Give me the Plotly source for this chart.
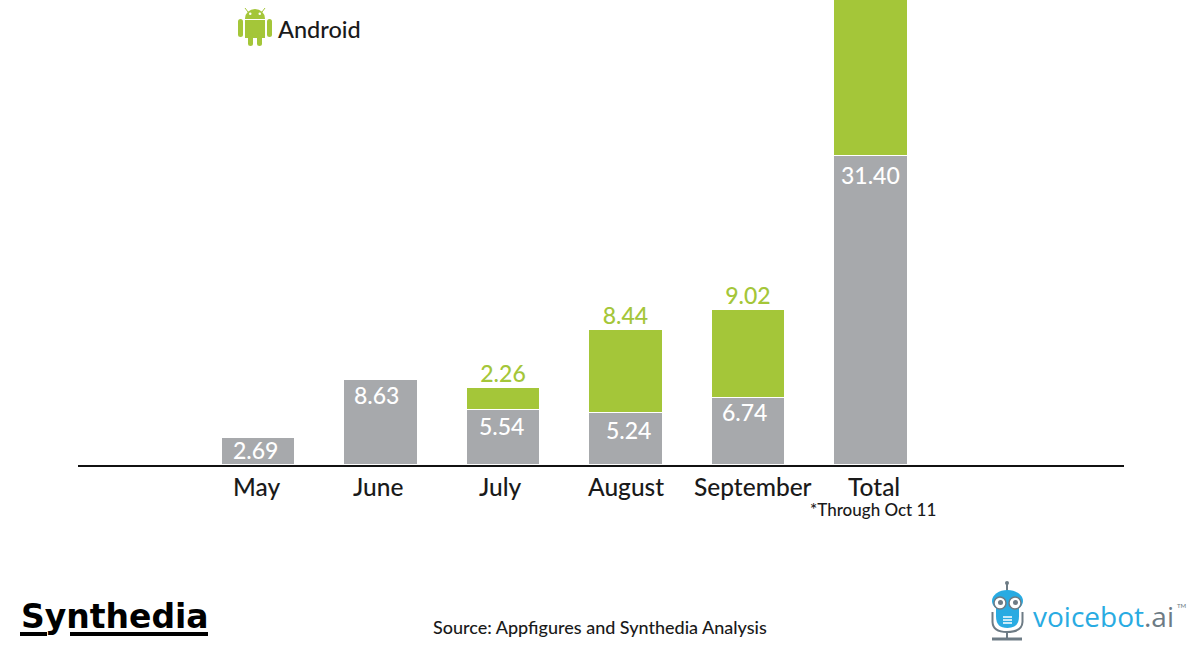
import plotly.graph_objects as go

months = ["May", "June", "July", "August", "September", "Total"]
ios_values = [2.69, 8.63, 5.54, 5.24, 6.74, 31.40]
android_values = [0, 0, 2.26, 8.44, 9.02, 19.72]
ios_labels = ["2.69", "8.63", "5.54", "5.24", "6.74", "31.40"]
android_labels = ["", "", "2.26", "8.44", "9.02", ""]
tick_nudge = [-2, -3, -3, 0, 5, 4]
ios_nudge = [-3, -4, -2, 3, -3, 0]
ios_drop = [-12, -16, -16, -17, -14, -19]

GREY = "#a7a9ac"
GREEN = "#a4c639"
BLUE = "#29abe2"
SLATE = "#6d7b85"
FONT = "Lato"

W, H = 1200, 650
L, R, BOTTOM = 78, 1124, 465

# logos are placed in screen pixels, so convert to paper coordinates
def px(x):
    return (x - L) / (R - L)

def py(y):
    return (BOTTOM - y) / BOTTOM

def rect(x0, y0, x1, y1, color):
    return dict(type="rect", xref="paper", yref="paper", x0=px(x0), x1=px(x1),
                y0=py(y1), y1=py(y0), fillcolor=color, line_width=0, layer="above")

def pill(x0, y0, x1, y1, color):
    r = (x1 - x0) / 2
    path = (f"M {px(x0)} {py(y0 + r)} Q {px(x0)} {py(y0)} {px(x0 + r)} {py(y0)} "
            f"Q {px(x1)} {py(y0)} {px(x1)} {py(y0 + r)} L {px(x1)} {py(y1 - r)} "
            f"Q {px(x1)} {py(y1)} {px(x0 + r)} {py(y1)} "
            f"Q {px(x0)} {py(y1)} {px(x0)} {py(y1 - r)} Z")
    return dict(type="path", xref="paper", yref="paper", path=path, fillcolor=color,
                line_width=0, layer="above")

def oval(x0, y0, x1, y1, color, line=None, width=0):
    return dict(type="circle", xref="paper", yref="paper", x0=px(x0), x1=px(x1),
                y0=py(y1), y1=py(y0), fillcolor=color, layer="above",
                line=dict(color=line or color, width=width))

def seg(x0, y0, x1, y1, color, width):
    return dict(type="line", xref="paper", yref="paper", x0=px(x0), x1=px(x1),
                y0=py(y0), y1=py(y1), layer="above", line=dict(color=color, width=width))

def text(x, y, s, size, color="#1a1a1a", family=FONT, anchor="center", weight=500):
    return dict(xref="paper", yref="paper", x=px(x), y=py(y), text=s, showarrow=False,
                xanchor=anchor, yanchor="middle",
                font=dict(size=size, color=color, family=family, weight=weight))

positions = list(range(len(months)))
stack_tops = [a + b for a, b in zip(ios_values, android_values)]

fig = go.Figure()
fig.add_bar(x=positions, y=ios_values, marker_color=GREY, width=0.6,
            marker_line=dict(color="white", width=1))
fig.add_bar(x=positions, y=android_values, marker_color=GREEN, width=0.6,
            marker_line=dict(color="white", width=1))
fig.add_scatter(x=positions, y=stack_tops, mode="text", text=android_labels,
                textposition="top center",
                textfont=dict(size=23, color=GREEN, family=FONT, weight=500))

notes = [
    text(276, 29, "Android", 23.5, anchor="left"),
    text(873, 509, "*Through Oct 11", 17),
    text(600, 627, "Source: Appfigures and Synthedia Analysis", 18),
    text(19, 616, "<b>Synthedia</b>", 33, color="#000000", family="DejaVu Sans", anchor="left"),
    text(1031, 616, f"voicebot<span style='color:{SLATE}'>.ai</span>", 28, color=BLUE,
         family="Open Sans", anchor="left", weight=400),
    text(1175, 605, "TM", 6, color=SLATE, anchor="left"),
]
for pos, month, nudge in zip(positions, months, tick_nudge):
    notes.append(dict(x=pos, y=0, xref="x", yref="paper", text=month, showarrow=False,
                      xshift=nudge, yshift=-21, yanchor="middle",
                      font=dict(size=24.5, color="#1a1a1a", family=FONT, weight=500)))
for pos, val, label, nudge, drop in zip(positions, ios_values, ios_labels, ios_nudge, ios_drop):
    notes.append(dict(x=pos, y=val, xref="x", yref="y", text=label, showarrow=False,
                      xshift=nudge, yshift=drop, yanchor="middle",
                      font=dict(size=23, color="white", family=FONT, weight=500)))

logos = [
    # android robot
    seg(248, 12, 245, 8, GREEN, 1), seg(262, 12, 265, 8, GREEN, 1),
    oval(245, 9, 265, 28, GREEN),
    rect(245, 19, 265, 38, "white"),
    rect(245, 20, 265, 38, GREEN),
    pill(238, 19, 243, 37, GREEN), pill(267, 19, 272, 37, GREEN),
    pill(248, 33, 253, 46, GREEN), pill(257, 33, 262, 46, GREEN),
    oval(249, 12.5, 251.5, 15, "white"), oval(258.5, 12.5, 261, 15, "white"),
    # synthedia underline
    rect(20, 632, 47, 636, "#000000"), rect(70, 632, 208, 636, "#000000"),
    # voicebot robot
    seg(992.5, 612, 992.5, 622, SLATE, 2), seg(1022.5, 612, 1022.5, 622, SLATE, 2),
    dict(type="path", xref="paper", yref="paper", layer="above",
         path=f"M {px(992.5)} {py(622)} Q {px(993)} {py(632)} {px(1007)} {py(632)} "
              f"Q {px(1022)} {py(632)} {px(1022.5)} {py(622)}",
         line=dict(color=SLATE, width=2)),
    seg(1007, 632, 1007, 639, SLATE, 2), seg(992, 639, 1022, 639, SLATE, 3),
    seg(1007, 582, 1007, 592, SLATE, 2), oval(1005, 581, 1009, 585, SLATE),
    pill(996, 594, 1019, 628, BLUE),
    oval(992, 590, 1023, 612, BLUE),
    oval(994, 597, 1006, 609, "white", SLATE, 1.5), oval(1009, 597, 1021, 609, "white", SLATE, 1.5),
    oval(998, 600, 1003, 605, SLATE), oval(1013, 600, 1018, 605, SLATE),
    seg(1003, 617, 1012, 617, "white", 1.5), seg(1003, 620, 1012, 620, "white", 1.5),
    seg(1003, 623, 1012, 623, "white", 1.5),
]

fig.update_layout(
    width=W, height=H, barmode="stack", showlegend=False,
    margin=dict(l=L, r=W - R, t=0, b=H - BOTTOM, pad=0),
    paper_bgcolor="white", plot_bgcolor="white",
    xaxis=dict(range=[-1.47, 7.07], showgrid=False, zeroline=False, showticklabels=False,
               ticks="", showline=True, linecolor="#111111", linewidth=2),
    yaxis=dict(range=[-0.1, 47.3], visible=False),
    annotations=notes, shapes=logos,
)
# the page's default body margin would push the 1200x650 figure off by 8px
fig.write_html("out.html", config={"displayModeBar": False},
               post_script="document.body.style.margin='0';")
